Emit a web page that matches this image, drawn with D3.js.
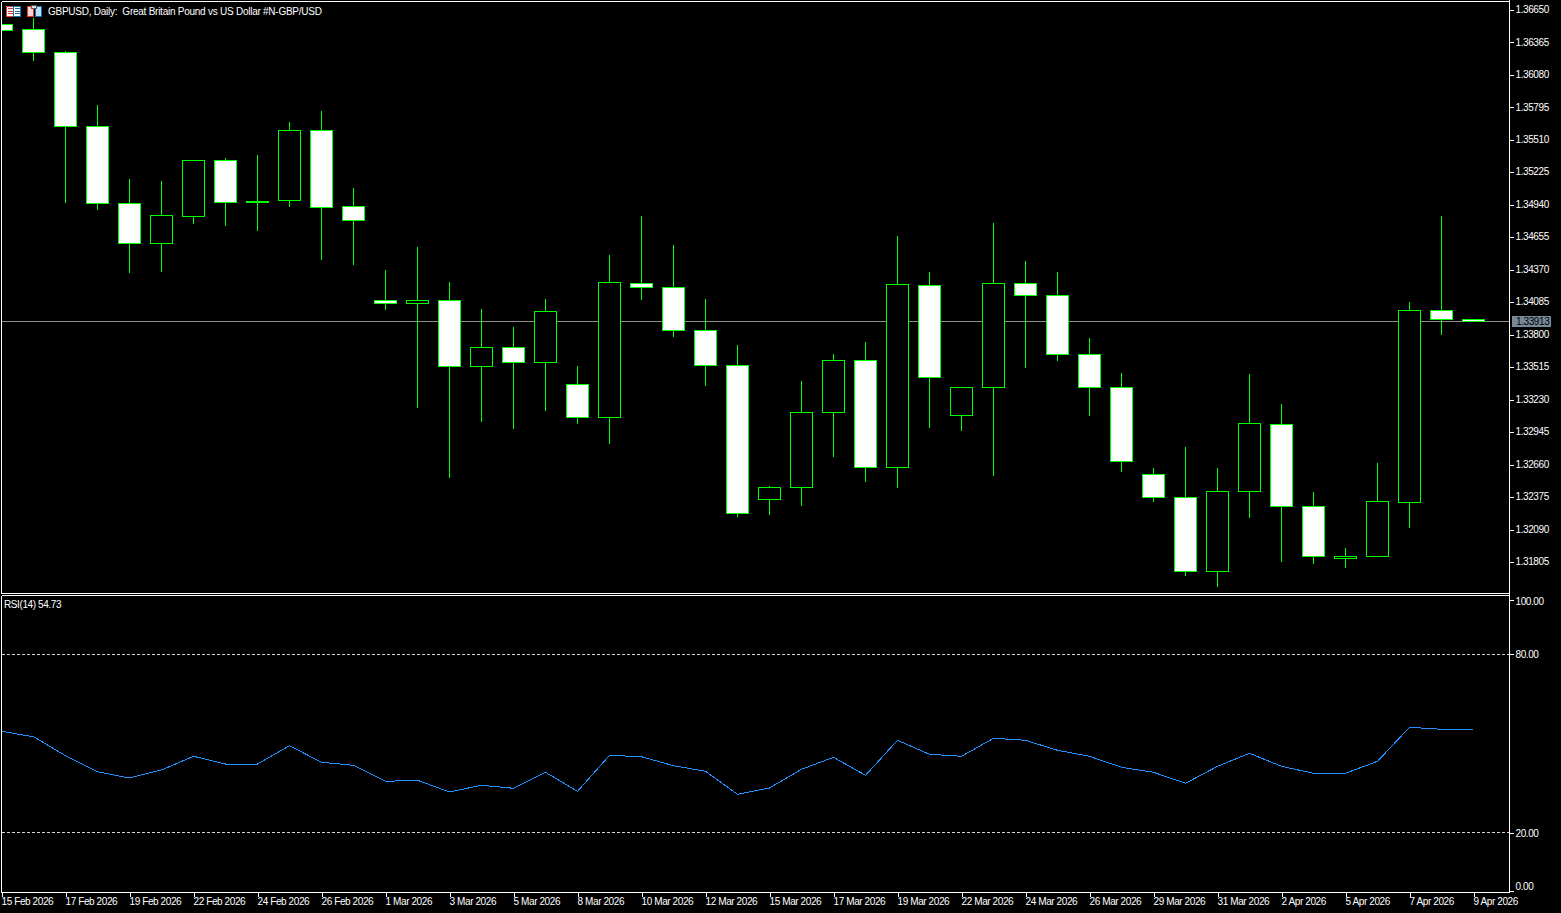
<!DOCTYPE html>
<html><head><meta charset="utf-8">
<script src="https://cdn.jsdelivr.net/npm/d3@7/dist/d3.min.js"></script>
<style>
html,body{margin:0;padding:0;background:#000;overflow:hidden}
svg{display:block}
text{font-family:"Liberation Sans",Arial,sans-serif;font-size:10px;fill:#fff;letter-spacing:-0.4px;white-space:pre}
</style></head><body><div id="chart"></div>
<script>
const title = "GBPUSD, Daily:  Great Britain Pound vs US Dollar #N-GBP/USD";
const rsiLabel = "RSI(14) 54.73";
const lastPrice = 1.33913;
const opens = [1.36518,1.36474,1.36273,1.35623,1.34947,1.34596,1.34833,1.35325,1.34965,1.34974,1.35588,1.34921,1.34096,1.34070,1.34096,1.33517,1.33683,1.33552,1.33359,1.33069,1.34245,1.34210,1.33833,1.33525,1.32349,1.32455,1.33113,1.33569,1.32630,1.34228,1.33087,1.33332,1.34245,1.34140,1.33622,1.33332,1.32569,1.32367,1.31717,1.32420,1.33008,1.32288,1.31831,1.31849,1.32323,1.34008,1.33929];
const highs = [1.36518,1.36580,1.36290,1.35816,1.35167,1.35149,1.35333,1.35351,1.35377,1.35667,1.35764,1.35088,1.34368,1.34570,1.34263,1.34026,1.33868,1.34113,1.33525,1.34500,1.34842,1.34587,1.34113,1.33710,1.32472,1.33394,1.33631,1.33736,1.34666,1.34350,1.33341,1.34780,1.34447,1.34350,1.33771,1.33464,1.32630,1.32814,1.32630,1.33455,1.33192,1.32420,1.31928,1.32674,1.34087,1.34842,1.33938];
const lows = [1.36466,1.36202,1.34956,1.34895,1.34342,1.34350,1.34772,1.34754,1.34710,1.34921,1.34456,1.34412,1.34017,1.33157,1.32542,1.33034,1.32972,1.33130,1.33016,1.32841,1.34105,1.33780,1.33350,1.32200,1.32218,1.32297,1.32727,1.32507,1.32455,1.32981,1.32955,1.32560,1.33508,1.33569,1.33087,1.32595,1.32332,1.31682,1.31586,1.32191,1.31805,1.31788,1.31752,1.31849,1.32104,1.33797,1.33912];
const closes = [1.36466,1.36273,1.35623,1.34947,1.34596,1.34842,1.35325,1.34956,1.34956,1.35588,1.34912,1.34798,1.34070,1.34096,1.33517,1.33683,1.33552,1.33999,1.33069,1.34254,1.34210,1.33833,1.33525,1.32226,1.32455,1.33113,1.33569,1.32630,1.34236,1.33420,1.33332,1.34245,1.34140,1.33622,1.33332,1.32683,1.32367,1.31717,1.32420,1.33016,1.32288,1.31849,1.31849,1.32332,1.34008,1.33929,1.33912];
const rsi = [54.11,52.30,45.92,40.54,38.43,41.12,45.72,43.13,43.13,49.28,43.70,42.69,37.32,37.66,33.73,35.98,34.97,40.34,33.96,46.05,45.58,42.56,40.68,32.95,35.07,41.35,45.38,39.33,51.09,46.39,45.72,51.76,51.09,47.73,45.72,42.02,40.34,36.65,42.36,46.72,42.36,40.01,40.01,44.04,55.46,54.79,54.73];
const priceTicks = [1.36650,1.36365,1.36080,1.35795,1.35510,1.35225,1.34940,1.34655,1.34370,1.34085,1.33800,1.33515,1.33230,1.32945,1.32660,1.32375,1.32090,1.31805];
const rsiTicks = [100,80,20,0];
const rsiLevels = [80,20];
const dateLabels = ["15 Feb 2026","17 Feb 2026","19 Feb 2026","22 Feb 2026","24 Feb 2026","26 Feb 2026","1 Mar 2026","3 Mar 2026","5 Mar 2026","8 Mar 2026","10 Mar 2026","12 Mar 2026","15 Mar 2026","17 Mar 2026","19 Mar 2026","22 Mar 2026","24 Mar 2026","26 Mar 2026","29 Mar 2026","31 Mar 2026","2 Apr 2026","5 Apr 2026","7 Apr 2026","9 Apr 2026"];

const W = 1561, H = 913, axisX = 1509.5, frameL = 1.5;
const GREEN = "#00ff00", WHITE = "#ffffff";
const svg = d3.select("#chart").append("svg").attr("width", W).attr("height", H);
svg.append("rect").attr("width", W).attr("height", H).attr("fill", "#000");

const x = d3.scaleLinear().domain([0, opens.length - 1]).range([1.5, 1473.5]);
const y = d3.scaleLinear().domain([1.36650, 1.31805]).range([9.5, 561.5]);
const yR = d3.scaleLinear().domain([100, 0]).range([594.7, 892.4]);
const snap = v => Math.round(v - 0.5) + 0.5;

const defs = svg.append("defs");
defs.append("clipPath").attr("id", "pc").append("rect").attr("x", 2).attr("y", 2).attr("width", axisX - 2).attr("height", 591);
defs.append("clipPath").attr("id", "rc").append("rect").attr("x", 2).attr("y", 596).attr("width", axisX - 2).attr("height", 296);

// price panel
const price = svg.append("g").attr("clip-path", "url(#pc)").attr("shape-rendering", "crispEdges");
price.append("line").attr("x1", 2).attr("x2", axisX).attr("y1", snap(y(lastPrice))).attr("y2", snap(y(lastPrice))).attr("stroke", "#8c8c8c");
const idx = d3.range(opens.length);
price.selectAll("line.w").data(idx).join("line").attr("class", "w")
  .attr("x1", i => x(i)).attr("x2", i => x(i))
  .attr("y1", i => snap(y(highs[i]))).attr("y2", i => snap(y(lows[i])) + 0.5)
  .attr("stroke", GREEN);
price.selectAll("rect.b").data(idx).join("rect").attr("class", "b")
  .attr("x", i => x(i) - 11).attr("width", 22)
  .attr("y", i => snap(y(Math.max(opens[i], closes[i]))))
  .attr("height", i => snap(y(Math.min(opens[i], closes[i]))) - snap(y(Math.max(opens[i], closes[i]))))
  .attr("fill", i => closes[i] > opens[i] ? "#000" : WHITE)
  .attr("stroke", GREEN);

// rsi panel
const rp = svg.append("g").attr("clip-path", "url(#rc)").attr("shape-rendering", "crispEdges");
rp.selectAll("line.l").data(rsiLevels).join("line").attr("class", "l")
  .attr("x1", 2).attr("x2", axisX).attr("y1", d => snap(yR(d))).attr("y2", d => snap(yR(d)))
  .attr("stroke", "#d3d3d3").attr("stroke-dasharray", "3,2");
rp.append("path").datum(rsi)
  .attr("d", d3.line().x((d, i) => x(i)).y(d => yR(d)))
  .attr("fill", "none").attr("stroke", "#1e90ff").attr("stroke-width", 1);

// frame
const frame = svg.append("g").attr("stroke", "#fff").attr("shape-rendering", "crispEdges");
[[frameL, 1.5, axisX, 1.5], [frameL, 593.5, axisX, 593.5], [frameL, 595.5, axisX, 595.5], [frameL, 892.5, axisX, 892.5], [frameL, 1.5, frameL, 593.5], [frameL, 595.5, frameL, 892.5], [axisX, 0, axisX, 893]]
  .forEach(l => frame.append("line").attr("x1", l[0]).attr("y1", l[1]).attr("x2", l[2]).attr("y2", l[3]));

// axes
function styleAxis(g) {
  g.attr("shape-rendering", "crispEdges");
  g.select(".domain").remove();
  g.selectAll("line").attr("stroke", "#fff");
  g.selectAll("text").attr("fill", "#fff").style("font-family", '"Liberation Sans",Arial,sans-serif').style("font-size", "10px");
}
const pa = svg.append("g").attr("transform", `translate(${axisX},0.5)`)
  .call(d3.axisRight(y).tickValues(priceTicks).tickFormat(d3.format(".5f")).tickSize(4).tickPadding(2))
  .call(styleAxis);
pa.selectAll("text").attr("y", -0.6);
const ra = svg.append("g").attr("transform", `translate(${axisX},0)`)
  .call(d3.axisRight(yR).tickValues(rsiTicks).tickFormat(d3.format(".2f")).tickSize(4).tickPadding(2))
  .call(styleAxis);
ra.selectAll(".tick").filter(d => d === 100).select("text").attr("y", 7);
ra.selectAll(".tick").filter(d => d === 100).select("line").attr("y1", 5).attr("y2", 5);
ra.selectAll(".tick").filter(d => d === 0).select("text").attr("y", -6);
ra.selectAll(".tick").filter(d => d === 0).select("line").attr("y1", -1).attr("y2", -1);

const tickIdx = dateLabels.map((_, k) => k * 2);
const xa = svg.append("g").attr("transform", "translate(0,892.5)")
  .call(d3.axisBottom(x).tickValues(tickIdx).tickFormat((d) => dateLabels[d / 2]).tickSize(4).tickPadding(1))
  .call(styleAxis);
xa.selectAll("text").attr("text-anchor", "start").attr("x", -0.5);

// last price tag
svg.append("rect").attr("x", 1512).attr("y", snap(y(lastPrice)) - 5.5).attr("width", 39).attr("height", 11).attr("fill", "#778899");
svg.append("text").attr("x", 1516).attr("y", snap(y(lastPrice)) + 3.5).style("fill", "#000").text(d3.format(".5f")(lastPrice));

// header
svg.append("text").attr("x", 48).attr("y", 15).style("letter-spacing", "-0.25px").text(title);
svg.append("text").attr("x", 4).attr("y", 608).text(rsiLabel);

// icons
const ic = svg.append("g").attr("shape-rendering", "crispEdges");
ic.append("rect").attr("x", 6.5).attr("y", 6.5).attr("width", 7).attr("height", 9.5).attr("fill", "#fff").attr("stroke", "#e0392b");
ic.append("rect").attr("x", 13.5).attr("y", 6.5).attr("width", 7).attr("height", 9.5).attr("fill", "#fff").attr("stroke", "#1a6fb0");
[8, 11, 13].forEach(v => {
  ic.append("line").attr("x1", 8).attr("x2", 13).attr("y1", v + .5).attr("y2", v + .5).attr("stroke", "#e0392b");
  ic.append("line").attr("x1", 15).attr("x2", 20).attr("y1", v + .5).attr("y2", v + .5).attr("stroke", "#1a6fb0");
});
ic.append("rect").attr("x", 27.5).attr("y", 6.5).attr("width", 5.5).attr("height", 10).attr("fill", "#fbd5d0").attr("stroke", "#e0392b");
ic.append("rect").attr("x", 35.5).attr("y", 6.5).attr("width", 6).attr("height", 10).attr("fill", "#bfe0f7").attr("stroke", "#1a6fb0");
ic.append("rect").attr("x", 31.5).attr("y", 5.5).attr("width", 5).attr("height", 3).attr("fill", "#ddd").attr("stroke", "#555");
</script></body></html>
